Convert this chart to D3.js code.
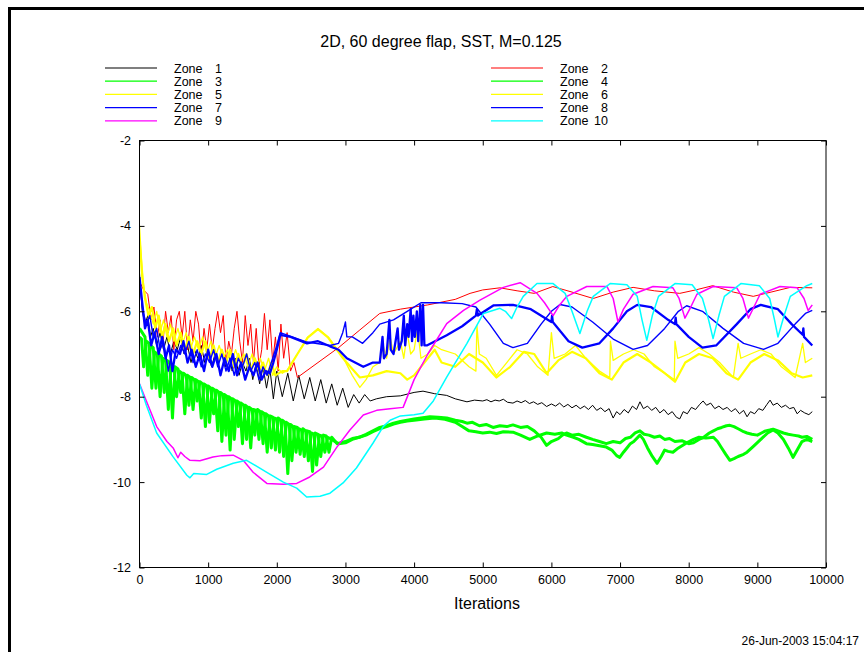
<!DOCTYPE html>
<html>
<head>
<meta charset="utf-8">
<script src="https://d3js.org/d3.v7.min.js"></script>
<style>
body { margin: 0; background: #fff; }
svg { display: block; font-family: "Liberation Sans", Arial, Helvetica, sans-serif; }
</style>
</head>
<body>
<div id="chart"></div>
<script>
window.conv_plot = {};

var chart_title = "2D, 60 degree flap, SST, M=0.125";
var x_label = "Iterations";
var stamp = "26-Jun-2003 15:04:17";
var x_ticks = [0, 1000, 2000, 3000, 4000, 5000, 6000, 7000, 8000, 9000, 10000];
var y_ticks = [-2, -4, -6, -8, -10, -12];

var zone_names = ["Zone  1", "Zone  2", "Zone  3", "Zone  4", "Zone  5",
                  "Zone  6", "Zone  7", "Zone  8", "Zone  9", "Zone 10"];
var zone_colors = ["#000000", "#ff0000", "#00ff00", "#00ff00", "#ffff00",
                   "#ffff00", "#0000ff", "#0000ff", "#ff00ff", "#00ffff"];

// [iteration, log residual]
var zone1 = [[0,-5.1],[40,-6.0],[80,-6.3],[120,-6.1],[160,-6.6],[200,-6.4],[250,-6.8],[300,-6.5],[350,-6.9],[400,-6.6],
  [450,-7.0],[500,-6.7],[550,-6.9],[600,-6.6],[650,-7.0],[700,-6.8],[750,-7.2],[800,-6.9],[850,-7.1],[900,-6.8],
  [950,-7.2],[1000,-7.0],[1050,-7.3],[1100,-7.0],[1150,-7.2],[1200,-6.9],[1250,-7.3],[1300,-7.0],[1350,-7.4],[1400,-7.1],
  [1450,-7.5],[1500,-7.2],[1550,-7.4],[1600,-7.1],[1650,-7.6],[1700,-7.2],[1750,-7.7],[1800,-7.3],[1850,-7.8],[1900,-7.35],
  [1950,-8.05],[2000,-7.4],[2080,-8.0],[2160,-7.45],[2240,-8.1],[2320,-7.5],[2400,-8.05],[2480,-7.55],[2560,-8.1],[2640,-7.6],
  [2720,-8.15],[2800,-7.7],[2880,-8.2],[2960,-7.8],[3040,-8.25],[3120,-7.95],[3200,-8.15],[3280,-7.95],[3360,-8.1],[3450,-8.05],
  [3600,-8.0],[3800,-7.98],[4000,-7.9],[4130,-7.87],[4300,-7.93],[4475,-7.97],[4600,-8.05],[4770,-8.12],[4880,-8.08],[5000,-8.1],
  [5060,-8.07],[5120,-8.12],[5180,-8.08],[5240,-8.1],[5300,-8.06],[5360,-8.13],[5440,-8.15],[5500,-8.1],[5560,-8.14],[5620,-8.09],
  [5680,-8.16],[5740,-8.12],[5800,-8.18],[5860,-8.14],[5930,-8.23],[6000,-8.17],[6060,-8.22],[6120,-8.15],[6180,-8.24],[6240,-8.18],
  [6300,-8.26],[6360,-8.2],[6420,-8.28],[6480,-8.22],[6540,-8.3],[6600,-8.2],[6660,-8.32],[6720,-8.26],[6780,-8.35],[6840,-8.28],
  [6900,-8.5],[6950,-8.35],[7000,-8.42],[7060,-8.3],[7120,-8.38],[7180,-8.22],[7240,-8.3],[7290,-8.12],[7340,-8.28],[7400,-8.22],
  [7460,-8.32],[7520,-8.25],[7580,-8.38],[7640,-8.3],[7700,-8.42],[7760,-8.35],[7820,-8.48],[7870,-8.52],[7920,-8.35],[7980,-8.4],
  [8040,-8.25],[8100,-8.3],[8160,-8.18],[8210,-8.1],[8260,-8.2],[8320,-8.15],[8380,-8.28],[8440,-8.22],[8500,-8.3],[8560,-8.25],
  [8620,-8.35],[8680,-8.28],[8740,-8.4],[8800,-8.32],[8850,-8.47],[8900,-8.35],[8960,-8.4],[9020,-8.28],[9080,-8.32],[9140,-8.18],
  [9185,-8.08],[9230,-8.2],[9290,-8.15],[9350,-8.25],[9410,-8.2],[9470,-8.28],[9530,-8.25],[9580,-8.4],[9630,-8.32],[9690,-8.38],
  [9750,-8.42],[9800,-8.35]];

var zone2 = [[0,-5.3],[60,-5.5],[120,-5.6],[170,-6.2],[210,-5.9],[260,-6.6],[300,-6.2],[340,-6.8],[380,-6.0],[420,-6.5],
  [460,-6.1],[500,-6.9],[540,-6.2],[580,-6.0],[620,-6.6],[660,-6.0],[700,-6.9],[740,-6.2],[780,-6.7],[820,-6.0],
  [860,-6.3],[900,-7.1],[940,-6.4],[980,-6.9],[1020,-6.3],[1060,-6.9],[1100,-6.4],[1140,-6.0],[1180,-6.5],[1220,-6.1],
  [1260,-7.2],[1300,-6.7],[1340,-7.0],[1380,-6.4],[1420,-6.0],[1460,-6.7],[1500,-7.2],[1540,-6.1],[1580,-6.8],[1620,-6.3],
  [1660,-7.2],[1700,-6.4],[1740,-7.3],[1780,-6.9],[1820,-6.05],[1860,-6.9],[1900,-6.2],[1940,-7.2],[1980,-6.6],[2020,-7.4],
  [2060,-6.3],[2100,-7.1],[2150,-6.5],[2200,-7.4],[2250,-7.2],[2300,-7.55],[2600,-7.2],[2900,-6.85],[3200,-6.45],[3500,-6.05],
  [3800,-5.95],[4200,-5.85],[4600,-5.72],[4815,-5.58],[5000,-5.5],[5250,-5.45],[5500,-5.52],[5750,-5.58],[6020,-5.42],[6300,-5.55],
  [6610,-5.7],[6900,-5.55],[7190,-5.44],[7500,-5.52],[7870,-5.58],[8100,-5.5],[8350,-5.4],[8650,-5.55],[8940,-5.65],[9200,-5.55],
  [9480,-5.44],[9800,-5.45]];

var zone3 = [[0,-6.4],[40,-6.5],[80,-6.6],[120,-7.5],[160,-6.8],[200,-6.85],[240,-7.8],[280,-7.0],[320,-7.05],[360,-7.9],
  [400,-7.15],[440,-7.2],[480,-8.5],[520,-7.3],[560,-7.35],[600,-7.9],[640,-7.45],[680,-7.5],[720,-8.2],[760,-7.55],
  [800,-7.6],[840,-8.1],[880,-7.65],[920,-7.7],[960,-8.7],[1000,-7.75],[1040,-7.8],[1080,-8.4],[1120,-7.85],[1160,-7.9],
  [1200,-9.05],[1240,-7.95],[1280,-8.0],[1320,-9.25],[1360,-8.05],[1400,-8.1],[1440,-8.7],[1480,-8.15],[1520,-8.2],[1560,-9.0],
  [1600,-8.25],[1640,-8.3],[1680,-8.9],[1720,-8.3],[1760,-8.35],[1800,-9.1],[1840,-8.4],[1880,-8.45],[1920,-9.2],[1960,-8.5],
  [2000,-8.52],[2040,-9.3],[2080,-8.55],[2120,-8.6],[2160,-9.8],[2200,-8.65],[2240,-8.7],[2280,-9.3],[2320,-8.75],[2360,-8.78],
  [2400,-9.4],[2440,-8.8],[2480,-8.82],[2520,-9.75],[2560,-8.85],[2600,-8.88],[2640,-9.4],[2680,-8.9],[2720,-8.92],[2760,-9.3],
  [2800,-8.95],[2880,-9.1],[3000,-9.05],[3100,-8.98],[3200,-8.95],[3300,-8.88],[3400,-8.8],[3500,-8.72],[3600,-8.68],[3700,-8.62],
  [3800,-8.58],[3900,-8.55],[4000,-8.52],[4100,-8.5],[4230,-8.47],[4350,-8.48],[4475,-8.5],[4600,-8.55],[4700,-8.58],[4770,-8.62],
  [4850,-8.6],[4950,-8.68],[5050,-8.65],[5150,-8.72],[5250,-8.68],[5350,-8.7],[5440,-8.66],[5550,-8.72],[5650,-8.7],[5750,-8.8],
  [5850,-8.95],[5930,-9.14],[6000,-9.05],[6100,-8.98],[6160,-8.9],[6220,-8.85],[6300,-8.9],[6400,-8.88],[6510,-8.95],[6600,-9.0],
  [6700,-9.05],[6800,-9.1],[6900,-9.05],[7000,-9.08],[7080,-8.98],[7150,-8.95],[7220,-8.85],[7290,-8.8],[7350,-8.88],[7420,-8.9],
  [7500,-8.95],[7580,-8.92],[7650,-9.0],[7720,-8.98],[7800,-9.05],[7900,-9.03],[8000,-9.1],[8070,-9.08],[8150,-9.0],[8220,-8.95],
  [8300,-8.85],[8360,-8.8],[8420,-8.75],[8480,-8.72],[8550,-8.68],[8600,-8.67],[8660,-8.7],[8720,-8.75],[8800,-8.82],[8850,-8.85],
  [8920,-8.88],[9000,-8.9],[9060,-8.85],[9120,-8.8],[9180,-8.78],[9230,-8.76],[9300,-8.8],[9380,-8.85],[9450,-8.88],[9520,-8.9],
  [9600,-8.92],[9650,-8.95],[9720,-8.93],[9800,-9.0]];

var zone4 = [[0,-6.6],[30,-6.65],[60,-7.3],[100,-6.7],[140,-6.75],[180,-7.8],[220,-6.95],[260,-7.0],[300,-8.0],[340,-7.1],
  [380,-7.15],[420,-8.3],[460,-7.25],[500,-7.3],[540,-8.0],[580,-7.4],[620,-7.45],[660,-8.4],[700,-7.5],[740,-7.55],
  [780,-8.3],[820,-7.6],[860,-7.65],[900,-8.5],[940,-7.7],[980,-7.75],[1020,-8.6],[1060,-7.8],[1100,-7.85],[1140,-8.8],
  [1180,-7.9],[1220,-7.95],[1260,-8.9],[1300,-8.0],[1340,-8.05],[1380,-9.0],[1420,-8.1],[1460,-8.15],[1500,-9.1],[1540,-8.2],
  [1580,-8.25],[1620,-9.2],[1660,-8.3],[1700,-8.32],[1740,-9.0],[1780,-8.35],[1820,-8.4],[1860,-9.3],[1900,-8.45],[1940,-8.48],
  [1980,-9.25],[2020,-8.5],[2060,-8.55],[2100,-9.4],[2140,-8.6],[2180,-8.65],[2220,-9.5],[2260,-8.7],[2300,-8.72],[2340,-9.35],
  [2380,-8.75],[2420,-8.8],[2460,-9.5],[2500,-8.85],[2540,-8.87],[2580,-9.6],[2620,-8.9],[2660,-8.92],[2700,-9.3],[2740,-8.95],
  [2800,-9.0],[2900,-9.1],[3000,-9.08],[3100,-9.0],[3200,-8.95],[3300,-8.9],[3400,-8.82],[3500,-8.75],[3600,-8.7],[3700,-8.64],
  [3800,-8.6],[3900,-8.57],[4000,-8.55],[4150,-8.52],[4300,-8.5],[4450,-8.53],[4600,-8.6],[4700,-8.7],[4800,-8.8],[4900,-8.82],
  [5000,-8.85],[5100,-8.83],[5200,-8.86],[5300,-8.82],[5440,-8.83],[5550,-8.9],[5685,-9.0],[5800,-8.92],[5930,-8.85],[6050,-8.88],
  [6150,-8.85],[6220,-8.9],[6320,-8.95],[6400,-9.0],[6510,-9.1],[6600,-9.12],[6700,-9.15],[6800,-9.18],[6880,-9.25],[6950,-9.38],
  [6995,-9.42],[7050,-9.3],[7100,-9.2],[7150,-9.1],[7200,-9.05],[7290,-8.9],[7340,-9.0],[7400,-9.2],[7470,-9.4],[7540,-9.56],
  [7600,-9.4],[7650,-9.25],[7700,-9.28],[7770,-9.3],[7850,-9.2],[7950,-9.1],[8070,-9.0],[8150,-8.95],[8250,-8.97],[8360,-8.95],
  [8420,-9.05],[8480,-9.2],[8540,-9.35],[8600,-9.49],[8660,-9.45],[8720,-9.4],[8800,-9.35],[8850,-9.3],[8950,-9.15],[9050,-9.0],
  [9150,-8.85],[9230,-8.78],[9300,-8.85],[9380,-9.0],[9450,-9.2],[9520,-9.42],[9580,-9.25],[9650,-9.05],[9720,-9.0],[9800,-9.05]];

var zone5 = [[0,-4.0],[30,-4.8],[60,-5.4],[100,-5.8],[150,-6.0],[200,-6.3],[250,-6.0],[300,-6.5],[350,-6.2],[400,-6.6],
  [450,-6.3],[500,-6.7],[560,-6.4],[620,-6.8],[680,-6.5],[740,-6.9],[800,-6.6],[860,-6.9],[920,-6.6],[980,-7.0],
  [1040,-6.7],[1100,-7.1],[1160,-6.8],[1220,-7.1],[1280,-6.9],[1340,-7.2],[1400,-6.9],[1460,-7.2],[1520,-7.0],[1580,-7.3],
  [1640,-7.0],[1700,-7.3],[1760,-7.1],[1820,-7.4],[1880,-7.1],[1940,-7.5],[2000,-7.3],[2080,-7.45],[2150,-7.38],[2300,-7.0],
  [2450,-6.6],[2600,-6.4],[2750,-6.6],[2965,-7.08],[3100,-7.5],[3210,-7.78],[3300,-7.6],[3400,-7.3],[3500,-7.2],[3550,-6.8],
  [3600,-7.1],[3650,-6.6],[3700,-7.0],[3800,-6.7],[3850,-7.1],[3900,-6.5],[3950,-7.0],[4000,-6.9],[4050,-6.4],[4100,-7.1],
  [4200,-7.0],[4300,-6.8],[4400,-6.9],[4600,-7.0],[4800,-7.3],[4900,-7.4],[4915,-6.33],[4950,-7.0],[5050,-7.1],[5200,-7.5],
  [5350,-7.2],[5500,-6.9],[5650,-7.0],[5800,-7.3],[5950,-7.5],[6000,-6.5],[6040,-7.1],[6200,-7.0],[6350,-6.8],[6500,-7.1],
  [6700,-7.4],[6850,-7.55],[6860,-6.7],[6900,-7.15],[7050,-7.0],[7200,-6.9],[7350,-7.0],[7500,-7.3],[7700,-7.5],[7790,-7.6],
  [7800,-6.7],[7840,-7.1],[8000,-7.0],[8150,-6.85],[8300,-7.0],[8450,-7.2],[8650,-7.55],[8720,-6.75],[8760,-7.1],[8900,-7.0],
  [9050,-6.9],[9200,-7.0],[9350,-7.3],[9550,-7.55],[9660,-6.75],[9700,-7.2],[9800,-7.1]];

var zone6 = [[0,-4.3],[40,-5.2],[80,-5.7],[130,-6.1],[180,-5.9],[230,-6.4],[280,-6.1],[330,-6.6],[380,-6.3],[430,-6.7],
  [490,-6.4],[540,-6.8],[600,-6.5],[660,-6.9],[720,-6.6],[780,-7.0],[840,-6.7],[900,-7.0],[960,-6.7],[1020,-7.1],
  [1080,-6.8],[1140,-7.2],[1200,-6.9],[1260,-7.2],[1320,-6.9],[1380,-7.3],[1440,-7.0],[1500,-7.3],[1560,-7.0],[1620,-7.4],
  [1680,-7.1],[1740,-7.4],[1800,-7.2],[1860,-7.5],[1920,-7.2],[1980,-7.5],[2080,-7.4],[2150,-7.4],[2300,-7.0],[2450,-6.62],
  [2600,-6.42],[2750,-6.62],[2965,-7.1],[3100,-7.35],[3210,-7.55],[3400,-7.5],[3600,-7.4],[3800,-7.45],[3900,-7.6],[4000,-7.5],
  [4150,-7.2],[4300,-6.9],[4400,-7.2],[4600,-7.3],[4800,-7.0],[5000,-7.2],[5200,-7.55],[5400,-7.3],[5600,-6.95],[5750,-7.0],
  [5930,-7.45],[6100,-7.15],[6300,-6.95],[6500,-7.1],[6700,-7.45],[6880,-7.6],[7050,-7.2],[7250,-7.0],[7450,-7.2],[7650,-7.45],
  [7800,-7.65],[7950,-7.2],[8150,-7.0],[8350,-7.1],[8550,-7.45],[8720,-7.6],[8900,-7.2],[9100,-7.0],[9300,-7.15],[9500,-7.45],
  [9660,-7.55],[9800,-7.5]];

var zone7 = [[0,-5.3],[50,-6.0],[100,-6.3],[150,-6.1],[200,-6.6],[250,-6.4],[300,-6.9],[350,-6.7],[420,-7.4],[480,-6.9],
  [540,-7.1],[600,-6.8],[660,-7.0],[720,-6.7],[780,-7.2],[840,-6.9],[900,-7.3],[960,-7.0],[1020,-7.2],[1080,-6.9],
  [1140,-7.3],[1200,-7.0],[1260,-7.4],[1320,-7.1],[1380,-7.5],[1440,-7.1],[1500,-7.3],[1560,-7.0],[1620,-7.4],[1680,-7.2],
  [1740,-7.6],[1800,-7.3],[1860,-7.5],[1920,-7.2],[1960,-7.0],[2000,-6.8],[2050,-6.5],[2440,-6.72],[2775,-6.8],[2900,-6.75],
  [2960,-6.5],[3000,-6.25],[3020,-6.6],[3100,-6.6],[3250,-6.75],[3400,-6.5],[3500,-6.3],[3700,-6.2],[3900,-6.0],[4100,-5.8],
  [4400,-5.8],[4700,-5.82],[4900,-5.9],[5100,-6.3],[5300,-6.75],[5440,-6.85],[5650,-6.75],[5850,-6.3],[6000,-6.0],[6125,-5.84],
  [6300,-5.9],[6600,-6.25],[6900,-6.65],[7190,-6.89],[7400,-6.8],[7650,-6.4],[7850,-6.0],[7970,-5.87],[8200,-6.0],[8500,-6.4],
  [8800,-6.75],[9090,-6.89],[9300,-6.75],[9550,-6.3],[9700,-6.05],[9800,-5.98]];

var zone8 = [[0,-5.2],[40,-5.8],[80,-6.4],[120,-6.2],[170,-6.8],[220,-6.5],[280,-7.0],[330,-6.6],[380,-7.1],[430,-6.8],
  [480,-7.4],[530,-6.9],[590,-7.0],[640,-6.7],[700,-7.2],[760,-6.9],[820,-7.3],[880,-7.0],[940,-7.4],[1000,-6.9],
  [1060,-7.3],[1120,-7.0],[1180,-7.5],[1240,-7.1],[1300,-7.4],[1360,-7.0],[1420,-7.5],[1480,-7.2],[1540,-7.6],[1600,-7.3],
  [1660,-7.5],[1720,-7.2],[1780,-7.6],[1840,-7.4],[1900,-7.45],[1950,-7.2],[2000,-6.9],[2050,-6.55],[2200,-6.6],[2440,-6.75],
  [2600,-6.7],[2775,-6.82],[2900,-6.9],[3020,-7.1],[3260,-7.3],[3400,-7.2],[3500,-7.2],[3540,-6.6],[3560,-7.1],[3600,-7.0],
  [3640,-6.2],[3660,-6.9],[3700,-7.0],[3760,-6.4],[3780,-6.9],[3820,-6.7],[3850,-6.1],[3870,-6.8],[3900,-6.3],[3920,-6.6],
  [3950,-5.95],[3970,-6.7],[3990,-6.1],[4010,-6.6],[4040,-6.0],[4060,-6.7],[4090,-5.85],[4110,-6.8],[4130,-5.85],[4150,-6.8],
  [4185,-6.8],[4475,-6.56],[4700,-6.35],[4900,-6.1],[4915,-5.95],[4930,-6.1],[5160,-5.86],[5440,-5.85],[5700,-5.95],[6000,-6.25],
  [6010,-6.1],[6020,-6.25],[6250,-6.7],[6450,-6.85],[6700,-6.75],[6900,-6.4],[7100,-6.0],[7250,-5.85],[7450,-5.9],[7700,-6.2],
  [7800,-6.3],[7810,-6.15],[7820,-6.3],[8000,-6.6],[8200,-6.85],[8400,-6.8],[8700,-6.3],[8900,-5.95],[9050,-5.85],[9300,-5.95],
  [9500,-6.3],[9660,-6.55],[9670,-6.4],[9680,-6.6],[9800,-6.8]];

var zone9 = [[0,-7.7],[100,-8.1],[250,-8.7],[400,-9.05],[490,-9.2],[560,-9.43],[600,-9.3],[660,-9.4],[735,-9.49],[880,-9.5],
  [1070,-9.41],[1200,-9.38],[1365,-9.37],[1510,-9.49],[1655,-9.77],[1855,-10.03],[2095,-10.05],[2290,-10.03],[2480,-9.88],[2680,-9.65],
  [2875,-9.18],[3065,-8.78],[3260,-8.43],[3455,-8.32],[3650,-8.28],[3840,-8.25],[4000,-7.6],[4200,-7.0],[4475,-6.29],[4720,-5.98],
  [4960,-5.74],[5300,-5.44],[5545,-5.33],[5790,-5.58],[5900,-5.8],[6025,-6.1],[6120,-5.85],[6225,-5.65],[6515,-5.42],[6810,-5.42],
  [6900,-5.7],[6970,-6.25],[7050,-5.95],[7190,-5.6],[7480,-5.42],[7770,-5.45],[7860,-5.7],[7945,-6.16],[8030,-5.9],[8120,-5.6],
  [8355,-5.42],[8700,-5.45],[8790,-5.7],[8870,-6.16],[8950,-5.9],[9040,-5.6],[9330,-5.42],[9580,-5.45],[9680,-5.7],[9740,-5.98],
  [9800,-5.85]];

var zone10 = [[0,-7.7],[100,-8.2],[250,-8.85],[490,-9.41],[690,-9.84],[735,-9.9],[790,-9.8],[980,-9.82],[1125,-9.7],[1365,-9.56],
  [1560,-9.49],[1855,-9.77],[2095,-10.0],[2290,-10.14],[2435,-10.35],[2630,-10.33],[2775,-10.26],[2965,-10.02],[3160,-9.67],[3400,-9.09],
  [3550,-8.7],[3650,-8.55],[3800,-8.45],[4000,-8.42],[4130,-8.39],[4280,-8.1],[4475,-7.54],[4770,-6.75],[5010,-6.05],[5250,-5.93],
  [5330,-6.0],[5420,-6.17],[5500,-5.9],[5590,-5.65],[5790,-5.35],[6025,-5.35],[6200,-5.58],[6300,-6.0],[6415,-6.52],[6520,-6.0],
  [6610,-5.65],[6855,-5.35],[7100,-5.38],[7250,-5.65],[7320,-6.2],[7390,-6.68],[7470,-6.1],[7560,-5.65],[7800,-5.35],[8050,-5.38],
  [8200,-5.7],[8290,-6.2],[8355,-6.64],[8440,-6.1],[8520,-5.65],[8760,-5.35],[9030,-5.4],[9180,-5.7],[9250,-6.2],[9300,-6.6],
  [9390,-6.1],[9480,-5.65],[9720,-5.4],[9800,-5.35]];

var zone_data = [zone1, zone2, zone3, zone4, zone5, zone6, zone7, zone8, zone9, zone10];
var zone_widths = [1, 1, 3, 3, 1.3, 2.2, 1.4, 2.3, 1.5, 1.5];

conv_plot.draw = function() {
    var width = 864, height = 652;
    var svg = d3.select("#chart").append("svg")
        .attr("width", width)
        .attr("height", height);

    // page frame (only top and left edges show)
    svg.append("line").attr("x1", 8).attr("x2", width).attr("y1", 8.5).attr("y2", 8.5)
        .attr("stroke", "#000").attr("stroke-width", 3);
    svg.append("line").attr("x1", 9.5).attr("x2", 9.5).attr("y1", 7).attr("y2", height)
        .attr("stroke", "#000").attr("stroke-width", 3);

    var x = d3.scaleLinear().domain([0, 10000]).range([139.5, 826]);
    var y = d3.scaleLinear().domain([-12, -2]).range([567.5, 140.5]);

    svg.append("text")
        .attr("x", 441).attr("y", 47)
        .attr("text-anchor", "middle")
        .attr("font-size", 16)
        .text(chart_title);

    // legend, two columns
    var legend = svg.append("g").attr("font-size", 12.5);
    zone_names.forEach(function(name, i) {
        var col = i % 2, row = Math.floor(i / 2);
        var lx = col === 0 ? 105 : 491;
        var ly = 68 + row * 13.2;
        legend.append("line")
            .attr("x1", lx).attr("x2", lx + 52)
            .attr("y1", ly).attr("y2", ly)
            .attr("stroke", zone_colors[i]).attr("stroke-width", 1.2);
        legend.append("text")
            .attr("x", lx + 69).attr("y", ly + 4.5)
            .text("Zone");
        legend.append("text")
            .attr("x", lx + 117).attr("y", ly + 4.5)
            .attr("text-anchor", "end")
            .text(name.replace("Zone", "").trim());
    });

    var line = d3.line()
        .x(function(d) { return x(d[0]); })
        .y(function(d) { return y(d[1]); });

    var plot = svg.append("g");
    plot.append("clipPath").attr("id", "clip")
        .append("rect").attr("x", 139.5).attr("y", 140.5).attr("width", 686.5).attr("height", 427);
    var lines = plot.append("g").attr("clip-path", "url(#clip)");
    zone_data.forEach(function(series, i) {
        lines.append("path")
            .datum(series)
            .attr("fill", "none")
            .attr("stroke", zone_colors[i])
            .attr("stroke-width", zone_widths[i])
            .attr("stroke-linejoin", "round")
            .attr("d", line);
    });

    var bottom = d3.axisBottom(x).tickValues(x_ticks).tickFormat(d3.format("d"))
        .tickSizeInner(-5).tickSizeOuter(0).tickPadding(8);
    var left = d3.axisLeft(y).tickValues(y_ticks).tickFormat(d3.format("d"))
        .tickSizeInner(-5).tickSizeOuter(0).tickPadding(8.5);
    var top = d3.axisTop(x).tickValues(x_ticks).tickSizeInner(-5).tickSizeOuter(0).tickFormat("");
    var right = d3.axisRight(y).tickValues(y_ticks).tickSizeInner(-5).tickSizeOuter(0).tickFormat("");

    var gb = svg.append("g").attr("transform", "translate(0,567.5)").call(bottom);
    var gl = svg.append("g").attr("transform", "translate(139.5,0)").call(left);
    var gt = svg.append("g").attr("transform", "translate(0,140.5)").call(top);
    var gr = svg.append("g").attr("transform", "translate(826,0)").call(right);
    [gb, gl, gt, gr].forEach(function(g) {
        g.select(".domain").remove();
        g.attr("font-family", null).attr("font-size", 12.5);
        g.selectAll("text").attr("fill", "#000");
    });
    // d3 uses a unicode minus; the plot has a plain hyphen
    gl.selectAll("text").text(function(d) { return String(d); });

    svg.append("rect")
        .attr("x", 139.5).attr("y", 140.5)
        .attr("width", 686.5).attr("height", 427)
        .attr("fill", "none").attr("stroke", "#000").attr("stroke-width", 1);

    svg.append("text")
        .attr("x", 487).attr("y", 609)
        .attr("text-anchor", "middle")
        .attr("font-size", 16)
        .text(x_label);

    svg.append("text")
        .attr("x", 859).attr("y", 645)
        .attr("text-anchor", "end")
        .attr("font-size", 12)
        .text(stamp);
}

conv_plot.draw();
</script>
</body>
</html>
